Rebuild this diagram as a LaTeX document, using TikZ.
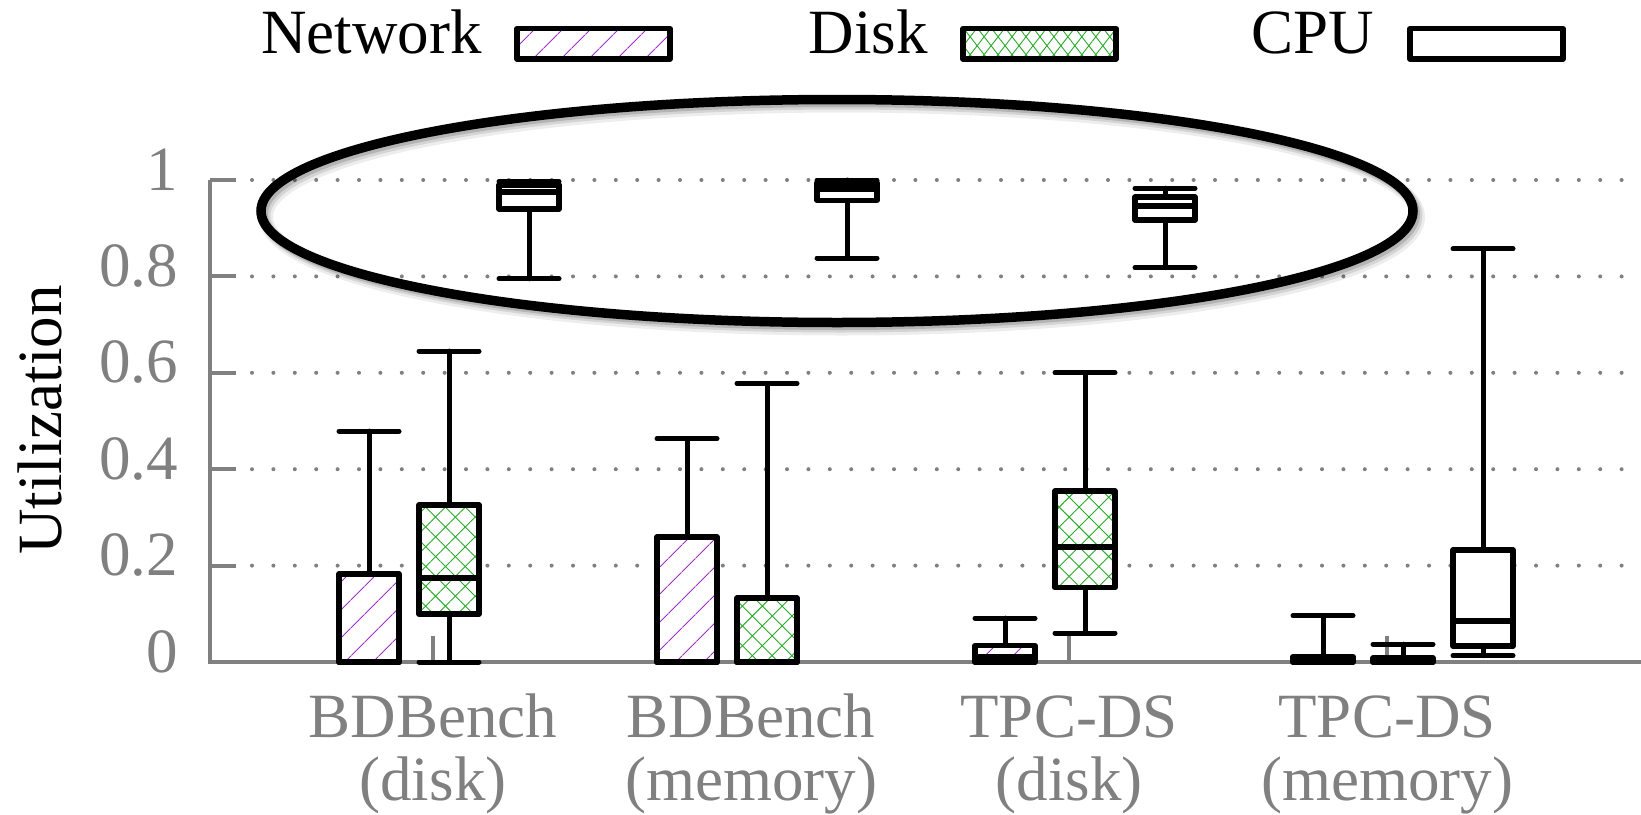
\documentclass[tikz,border=0pt]{standalone}
\usepackage{fontspec}
\setmainfont{Liberation Serif}
\usetikzlibrary{patterns.meta}
\definecolor{axgray}{RGB}{128,128,128}
\definecolor{netpurple}{RGB}{160,50,200}
\definecolor{diskgreen}{RGB}{40,170,40}
\tikzset{
  gridline/.style={draw=axgray, line width=4pt, line cap=round, dash pattern=on 0pt off 21.4pt},
  axisline/.style={draw=axgray, line width=4pt},
  ticklab/.style={text=axgray, inner sep=0pt},
  blacklab/.style={text=black, inner sep=0pt},
  bxline/.style={draw=black, line width=5.4pt, line join=round, line cap=round},
  whisk/.style={draw=black, line width=5pt, line cap=round},
  legbox/.style={draw=black, line width=5.2pt, line join=round},
  nethatch/.style={pattern={Lines[angle=45,distance=19.5pt,line width=1pt]}, pattern color=netpurple},
  diskhatchA/.style={pattern={Lines[angle=45,distance=14pt,line width=0.9pt]}, pattern color=diskgreen},
  diskhatchB/.style={pattern={Lines[angle=-45,distance=14pt,line width=0.9pt]}, pattern color=diskgreen},
  legdiskA/.style={pattern={Lines[angle=52,distance=11pt,line width=0.9pt]}, pattern color=diskgreen},
  legdiskB/.style={pattern={Lines[angle=-52,distance=11pt,line width=0.9pt]}, pattern color=diskgreen},
}
% #1 x, #2 low whisker, #3 q1, #4 median, #5 q3, #6 high whisker, #7 kind (0 net,1 disk,2 cpu)
\newcommand\mybplot[7]{%
  \draw[whisk] (#1-30,#6) -- (#1+30,#6);
  \draw[whisk] (#1,#6) -- (#1,#5);
  \draw[whisk] (#1,#2) -- (#1,#3);
  \draw[whisk] (#1-30,#2) -- (#1+30,#2);
  \fill[white] (#1-30,#3) rectangle (#1+30,#5);
  \ifcase#7
    \fill[nethatch] (#1-30,#3) rectangle (#1+30,#5);
  \or
    \fill[diskhatchA] (#1-30,#3) rectangle (#1+30,#5);
    \fill[diskhatchB] (#1-30,#3) rectangle (#1+30,#5);
  \else
  \fi
  \draw[bxline] (#1-30,#3) rectangle (#1+30,#5);
  \draw[bxline] (#1-30,#4) -- (#1+30,#4);
}
\begin{document}
\begin{tikzpicture}[x=1pt,y=-1pt,font=\fontsize{63}{63}\selectfont]
\useasboundingbox (0,0) rectangle (1641,814);
\fill[white] (0,0) rectangle (1641,814);

% grid
\foreach \v in {0.2,0.4,0.6,0.8,1}{
  \draw[gridline] (252,{662-482*\v}) -- (1641,{662-482*\v});
  \draw[axisline] (210,{662-482*\v}) -- (236,{662-482*\v});
}
\draw[axisline] (210,180) -- (210,662) -- (1641,662);
\foreach \t in {433,751,1069,1387}{
  \draw[axisline] (\t,662) -- (\t,636);
}

% y tick labels
\node[ticklab,anchor=base east] (y0) at (178,672) {0};
\node[ticklab,anchor=base east] (y2) at (178,{672-482*0.2}) {0.2};
\node[ticklab,anchor=base east] (y4) at (178,{672-482*0.4}) {0.4};
\node[ticklab,anchor=base east] (y6) at (178,{672-482*0.6}) {0.6};
\node[ticklab,anchor=base east] (y8) at (178,{672-482*0.8}) {0.8};
\node[ticklab,anchor=base east] (y10) at (178,{672-482}) {1};
\node[blacklab,rotate=90,anchor=base] (ylab) at (61,420) {Utilization};

% x labels
\node[ticklab,anchor=base] (xa1) at (433,737) {BDBench};
\node[ticklab,anchor=base] (xa2) at (433,800) {(disk)};
\node[ticklab,anchor=base] (xb1) at (751,737) {BDBench};
\node[ticklab,anchor=base] (xb2) at (751,800) {(memory)};
\node[ticklab,anchor=base] (xc1) at (1069,737) {TPC-DS};
\node[ticklab,anchor=base] (xc2) at (1069,800) {(disk)};
\node[ticklab,anchor=base] (xd1) at (1387,737) {TPC-DS};
\node[ticklab,anchor=base] (xd2) at (1387,800) {(memory)};

% boxes
\begin{scope}[y=482pt,yshift=-662pt]
  % BDBench disk
  \mybplot{369}{0}{0}{0}{0.183}{0.479}{0}
  \mybplot{449}{0}{0.0996}{0.174}{0.326}{0.645}{1}
  \mybplot{529}{0.795}{0.94}{0.975}{0.99}{0.997}{2}
  % BDBench memory
  \mybplot{687}{0}{0}{0}{0.259}{0.463}{0}
  \mybplot{767}{0}{0}{0}{0.133}{0.578}{1}
  \mybplot{847}{0.838}{0.958}{0.981}{0.994}{1.0}{2}
  % TPC-DS disk
  \mybplot{1005}{0}{0}{0.011}{0.034}{0.091}{0}
  \mybplot{1085}{0.06}{0.154}{0.239}{0.355}{0.60}{1}
  \mybplot{1165}{0.818}{0.917}{0.946}{0.965}{0.983}{2}
  % TPC-DS memory
  \mybplot{1323}{0}{0}{0.004}{0.011}{0.096}{0}
  \mybplot{1403}{0}{0}{0.003}{0.008}{0.037}{1}
  \mybplot{1483}{0.013}{0.033}{0.085}{0.232}{0.857}{2}
\end{scope}

% highlight ellipse with soft shadow
\draw[black,opacity=0.07,line width=14pt] (842,217) ellipse [x radius=576, y radius=111.5];
\draw[black,opacity=0.10,line width=11pt] (841,215.5) ellipse [x radius=576, y radius=111.5];
\draw[black,opacity=0.15,line width=9pt] (839.5,214) ellipse [x radius=576, y radius=111.5];
\draw[black,line width=9.5pt] (837,211) ellipse [x radius=576, y radius=111.5];

% legend
\node[blacklab,anchor=base east] (lnet) at (482,53) {Network};
\fill[white] (517,28.5) rectangle (670,59);
\fill[nethatch] (517,28.5) rectangle (670,59);
\draw[legbox] (517,28.5) rectangle (670,59);
\node[blacklab,anchor=base east] (ldisk) at (928,53) {Disk};
\fill[white] (963,28.5) rectangle (1116,59);
\fill[legdiskA] (963,28.5) rectangle (1116,59);
\fill[legdiskB] (963,28.5) rectangle (1116,59);
\draw[legbox] (963,28.5) rectangle (1116,59);
\node[blacklab,anchor=base east] (lcpu) at (1374,53) {CPU};
\draw[legbox,fill=white] (1410,28.5) rectangle (1563,59);
\end{tikzpicture}
\end{document}
